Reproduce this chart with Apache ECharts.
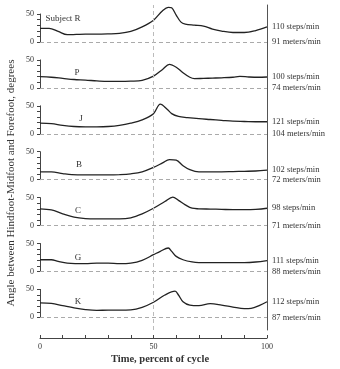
<!DOCTYPE html>
<html><head><meta charset="utf-8">
<script src="https://cdn.jsdelivr.net/npm/echarts@6/dist/echarts.min.js"></script>
<style>html,body{margin:0;padding:0;background:#fff}#c{width:340px;height:369px}</style>
</head><body><div id="c"></div>
<script>
// ---- data ----
const subjects = ['Subject R', 'P', 'J', 'B', 'C', 'G', 'K'];
const stepRates = ['110 steps/min', '100 steps/min', '121 steps/min', '102 steps/min', '98 steps/min', '111 steps/min', '112 steps/min'];
const speeds = ['91 meters/min', '74 meters/min', '104 meters/min', '72 meters/min', '71 meters/min', '88 meters/min', '87 meters/min'];
const xTickLabels = [0, 50, 100];
const yTickLabels = [0, 50];

const tR = [0, 4, 8, 12, 16, 20, 25, 30, 35, 40, 45, 50, 54, 56.5, 58, 60, 62, 64, 68, 72, 76, 80, 85, 90, 95, 100];
const vR = [24.5, 24.5, 19, 13, 13.5, 14, 14, 14.5, 15.5, 19, 27, 39, 56, 62, 61, 48, 36, 32, 30, 28.5, 23, 19.5, 17, 17, 20.5, 27];
const tP = [0, 5, 10, 15, 20, 25, 30, 35, 40, 45, 50, 54, 57, 60, 63, 66, 68, 72, 76, 80, 85, 88, 92, 96, 100];
const vP = [20, 19, 17, 15, 14, 12.5, 11.5, 11.5, 12, 13.5, 21, 33, 42, 37, 27, 19, 16.5, 17, 17.5, 18, 19, 20.5, 19.5, 19, 19.5];
const tJ = [0, 5, 10, 15, 20, 25, 30, 35, 40, 45, 50, 53, 56, 58, 61, 65, 70, 75, 80, 85, 90, 95, 100];
const vJ = [19, 18, 15, 13, 12.5, 12.5, 13, 15, 19, 25, 36, 53, 44, 36, 31, 29, 27, 25.5, 24, 22.5, 22, 21.5, 21.5];
const tB = [0, 5, 10, 14, 20, 25, 30, 35, 40, 45, 50, 54, 57, 60, 63, 66, 70, 75, 80, 85, 90, 95, 100];
const vB = [14, 14, 11, 9, 8.5, 8.5, 8.5, 9, 10.5, 14, 22, 30, 36, 35, 25, 18, 14, 14, 14, 14.5, 15, 15.5, 17];
const tC = [0, 5, 10, 15, 20, 25, 30, 35, 40, 45, 50, 55, 58.5, 61, 64, 67, 70, 75, 80, 85, 90, 95, 100];
const vC = [30, 28, 21, 15, 12.5, 12, 12, 12, 14, 21, 31, 43, 51, 45, 37, 31, 30, 29.5, 29, 28.5, 28.5, 29, 31];
const tG = [0, 5, 8, 12, 20, 25, 30, 35, 40, 45, 50, 53, 56.5, 58, 60, 63, 67, 70, 80, 90, 95, 100];
const vG = [21, 21, 18, 15, 14, 15, 15, 14, 15, 20, 30, 36, 42, 36, 27, 21, 17, 16, 16, 16, 17, 19.5];
const tK = [0, 5, 10, 15, 20, 25, 30, 35, 40, 45, 50, 55, 59.5, 61, 63, 66, 70, 75, 80, 85, 90, 93, 97, 100];
const vK = [26, 25, 21, 17, 14, 12.5, 13, 13, 13.5, 18, 27, 40, 47, 40, 28, 22, 21, 24.5, 22, 18.5, 15.5, 16, 22, 28];

const times = [tR, tP, tJ, tB, tC, tG, tK];
const values = [vR, vP, vJ, vB, vC, vG, vK];

// ---- layout ----
const FONT = 'Liberation Serif';
const TXT = '#333';
const LEFT = 40, WIDTH = 227;
const ZERO0 = 42, STEP = 45.9, PANEL_H = 28;
const labelPos = [[63, 41], [77, 27.5], [81, 27], [79, 26.5], [78, 26], [78, 24.5], [78, 29]];

const grids = [], xAxes = [], yAxes = [], series = [], graphics = [];
subjects.forEach((name, i) => {
  const zero = ZERO0 + STEP * i;
  grids.push({left: LEFT, width: WIDTH, top: zero - PANEL_H, height: PANEL_H});
  xAxes.push({type: 'value', gridIndex: i, min: 0, max: 100, show: false});
  yAxes.push({
    type: 'value', gridIndex: i, min: 0, max: 50, interval: 10,
    splitLine: {show: false},
    axisLine: {show: true, onZero: false, lineStyle: {color: '#444', width: 1}},
    axisTick: {show: true, length: 3, lineStyle: {color: '#444'}},
    axisLabel: {
      margin: 6, fontSize: 8, fontFamily: FONT, color: TXT,
      formatter: v => yTickLabels.includes(v) ? String(v) : ''
    }
  });
  series.push({
    type: 'line', xAxisIndex: i, yAxisIndex: i,
    data: times[i].map((t, j) => [t, values[i][j]]),
    smooth: 0.35, symbol: 'none', clip: false,
    lineStyle: {color: '#222', width: 1.3},
    endLabel: {show: true, formatter: stepRates[i], color: TXT, fontSize: 8.5, fontFamily: FONT, distance: 5},
    markLine: {
      silent: true, symbol: 'none', animation: false,
      lineStyle: {type: [4, 3], color: '#aaa', width: 1},
      label: {show: true, position: 'end', formatter: speeds[i], color: TXT, fontSize: 8.5, fontFamily: FONT, distance: 5},
      data: [{yAxis: 0}]
    }
  });
  graphics.push({
    type: 'text', x: labelPos[i][0], y: zero - labelPos[i][1] / 50 * PANEL_H,
    style: {text: name, fill: TXT, font: '9px ' + FONT, align: 'center', verticalAlign: 'middle'}
  });
});

// overall frame grid: time axis, right line, 50% dashed line
const gi = subjects.length;
grids.push({left: LEFT, width: WIDTH, top: 5, height: 325});
xAxes.push({
  type: 'value', gridIndex: gi, min: 0, max: 100, interval: 10, position: 'bottom', offset: 8,
  splitLine: {show: false},
  axisLine: {show: true, onZero: false, lineStyle: {color: '#444', width: 1}},
  axisTick: {show: true, inside: true, length: 3, lineStyle: {color: '#444'}},
  axisLabel: {margin: 5, fontSize: 8, fontFamily: FONT, color: TXT,
    formatter: v => xTickLabels.includes(v) ? String(v) : ''}
});
yAxes.push({
  type: 'value', gridIndex: gi, min: 0, max: 100, position: 'right',
  splitLine: {show: false}, axisTick: {show: false}, axisLabel: {show: false},
  axisLine: {show: true, onZero: false, lineStyle: {color: '#555', width: 1}}
});
series.push({
  type: 'line', xAxisIndex: gi, yAxisIndex: gi, data: [],
  markLine: {
    silent: true, symbol: 'none', animation: false,
    lineStyle: {type: [4, 3], color: '#bbb', width: 1},
    label: {show: false},
    data: [{xAxis: 50}]
  }
});
graphics.push({
  type: 'text', x: 160, y: 359,
  style: {text: 'Time, percent of cycle', fill: TXT,
    font: 'bold 10.5px ' + FONT, align: 'center', verticalAlign: 'middle'}
});
graphics.push({
  type: 'text', x: 11, y: 183, rotation: Math.PI / 2,
  style: {text: 'Angle between Hindfoot-Midfoot and Forefoot, degrees', fill: TXT,
    font: '11px ' + FONT, align: 'center', verticalAlign: 'middle'}
});

const chart = echarts.init(document.getElementById('c'), null, {renderer: 'canvas'});
chart.setOption({
  animation: false,
  backgroundColor: '#fff',
  grid: grids, xAxis: xAxes, yAxis: yAxes, series: series, graphic: graphics
});
</script>
</body></html>
